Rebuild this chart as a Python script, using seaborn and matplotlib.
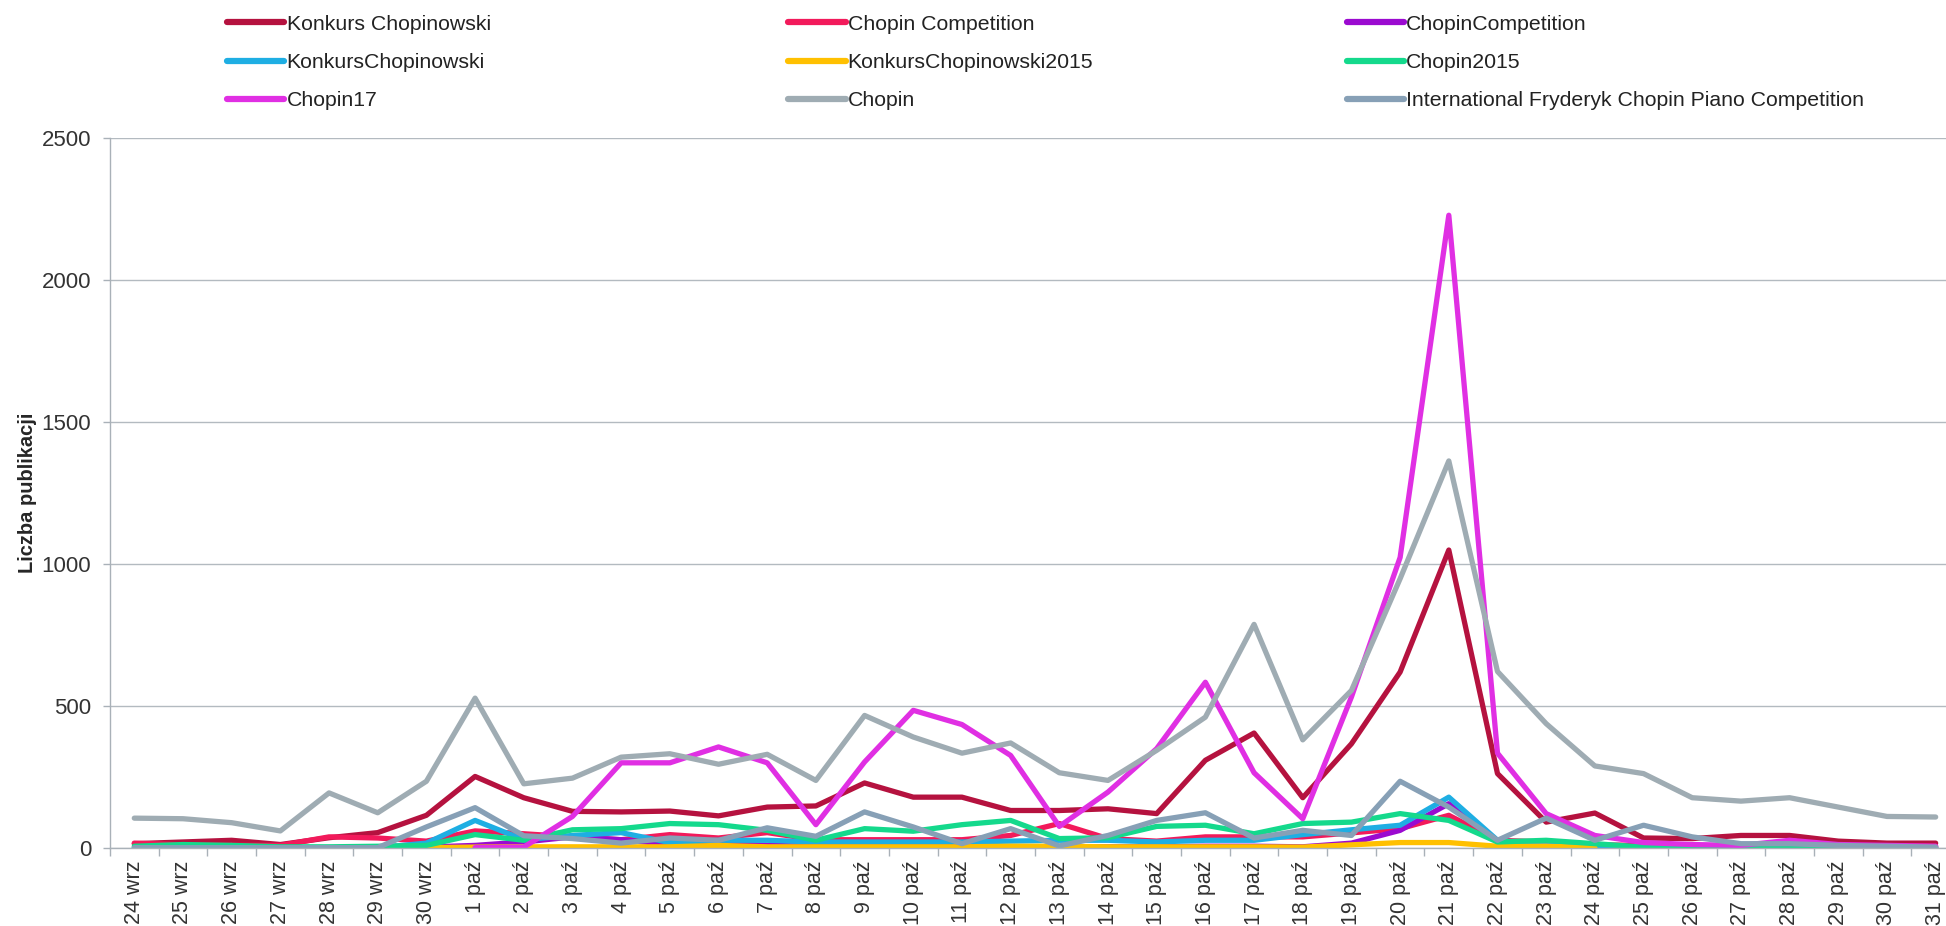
import numpy as np
import pandas as pd
import seaborn as sns
import matplotlib.pyplot as plt
from matplotlib.ticker import FixedLocator

nan = np.nan

days = ['24 wrz', '25 wrz', '26 wrz', '27 wrz', '28 wrz', '29 wrz', '30 wrz'] + \
       ['%d paź' % d for d in range(1, 32)]

series_names = [
    'Konkurs Chopinowski', 'Chopin Competition', 'ChopinCompetition',
    'KonkursChopinowski', 'KonkursChopinowski2015', 'Chopin2015',
    'Chopin17', 'Chopin', 'International Fryderyk Chopin Piano Competition'
]

konkurs_chopinowski = [14, 20, 26, 11, 35, 53, 114,
                       251, 176, 128, 126, 129, 112, 143, 147, 228, 178, 178, 131, 131, 137, 120,
                       308, 404, 176, 366, 619, 1049, 261, 90, 122, 34, 32, 43, 43, 23, 16, 16]
chopin_competition = [16, 10, 8, 8, 38, 34, 23,
                      59, 49, 38, 28, 46, 34, 53, 28, 28, 28, 28, 43, 85, 32, 23,
                      38, 38, 38, 52, 67, 114, 26, 20, 10, 8, 5, 5, 8, 5, 5, 5]
chopincompetition = [nan, nan, nan, nan, nan, 0, 2,
                     8, 20, 38, 28, 11, 16, 8, 5, 5, 5, 5, 3, 3, 3, 3,
                     5, 5, 3, 16, 61, 155, 20, 5, 2, 0, 0, 0, 0, 0, 0, 0]
konkurschopinowski = [0, 0, 0, 0, 0, 0, 16,
                      96, 28, 43, 53, 18, 26, 26, 20, 20, 20, 20, 23, 26, 26, 20,
                      26, 26, 46, 63, 79, 178, 26, 8, 5, 2, 0, 0, 0, 0, 0, 0]
konkurschopinowski2015 = [nan, nan, nan, nan, nan, nan, 0,
                          2, 3, 3, 3, 3, 8, 3, 3, 3, 3, 3, 5, 5, 3, 3,
                          3, 3, 2, 10, 18, 18, 5, 5, 0, nan, nan, nan, nan, nan, nan, nan]
chopin2015 = [5, 11, 8, 3, 3, 5, 8,
              46, 26, 63, 67, 85, 81, 61, 26, 67, 58, 81, 96, 32, 35, 75,
              79, 49, 85, 90, 120, 96, 20, 26, 14, 2, 0, 0, 0, 0, 0, 0]
chopin17 = [nan, nan, nan, nan, nan, nan, nan,
            0, 2, 110, 299, 299, 355, 299, 81, 302, 484, 434, 325, 75, 196, 349,
            583, 264, 102, 531, 1023, 2229, 333, 120, 43, 18, 11, 8, 26, 11, 8, 5]
chopin = [104, 102, 88, 59, 193, 123, 234,
          527, 225, 245, 319, 331, 294, 329, 237, 466, 390, 333, 369, 264, 237, 343,
          460, 787, 380, 554, 948, 1363, 621, 437, 288, 261, 176, 164, 176, 143, 110, 108]
international = [0, 0, 0, 0, 0, 0, 73,
                 141, 42, 32, 16, 34, 26, 70, 40, 126, 73, 14, 67, 6, 43, 96,
                 123, 34, 61, 43, 234, 143, 26, 104, 26, 79, 38, 14, 14, 8, 5, 2]

colors = ['#B5123F', '#F21A5B', '#9B0AD0', '#1EAEE3', '#FFC000',
          '#14D98C', '#E02FE3', '#9FACB3', '#87A0B6']

all_values = [konkurs_chopinowski, chopin_competition, chopincompetition,
              konkurschopinowski, konkurschopinowski2015, chopin2015,
              chopin17, chopin, international]

rows = []
for name, vals in zip(series_names, all_values):
    for i, v in enumerate(vals):
        rows.append({'x': i, 'value': v, 'series': name})
df = pd.DataFrame(rows).dropna()

sns.set_theme(style='white')
plt.rcParams['font.family'] = ['Liberation Sans', 'DejaVu Sans']
plt.rcParams['text.color'] = '#222222'

fig = plt.figure(figsize=(19.46, 9.26), dpi=100)
ax = fig.add_axes([0.0565, 0.0846, 0.9507, 0.766])

sns.lineplot(data=df, x='x', y='value', hue='series', hue_order=series_names,
             palette=dict(zip(series_names, colors)), linewidth=3.8,
             estimator=None, sort=False, ax=ax)

ax.set_xlim(-0.5, len(days) - 0.5)
ax.set_ylim(0, 2500)
ax.set_yticks(range(0, 2501, 500))
ax.set_yticklabels([str(v) for v in range(0, 2501, 500)], fontsize=16, color='#333333')
ax.set_xticks(range(len(days)))
ax.set_xticklabels(days, rotation=90, fontsize=15.5, color='#333333')
ax.xaxis.set_minor_locator(FixedLocator(np.arange(-0.5, len(days), 1.0)))
ax.tick_params(axis='x', which='major', length=0, pad=9)
ax.tick_params(axis='x', which='minor', length=6, color='#A9B1B8', width=1, bottom=True)
ax.tick_params(axis='y', length=5, color='#A9B1B8', width=1, left=True, pad=8.5)

ax.grid(axis='y', color='#B3BAC0', linewidth=1)
ax.set_axisbelow(True)
sns.despine(ax=ax, top=True, right=True)
for s in ['left', 'bottom']:
    ax.spines[s].set_color('#A9B1B8')
    ax.spines[s].set_linewidth(1)

ax.set_xlabel('')
ax.set_ylabel('Liczba publikacji', fontsize=14.5, fontweight='bold', labelpad=3)

handles, labels = ax.get_legend_handles_labels()
ax.get_legend().remove()
col_x = [0.1167, 0.405, 0.692]
for c in range(3):
    idx = [c, c + 3, c + 6]
    leg = fig.legend([handles[i] for i in idx], [labels[i] for i in idx],
                     loc='upper left', bbox_to_anchor=(col_x[c], 0.984),
                     frameon=False, fontsize=15.3, handlelength=2.7,
                     handletextpad=0.1, labelspacing=0.9,
                     borderpad=0, borderaxespad=0)
    for line in leg.get_lines():
        line.set_linewidth(4.5)

fig.savefig('out.png', dpi=100)
